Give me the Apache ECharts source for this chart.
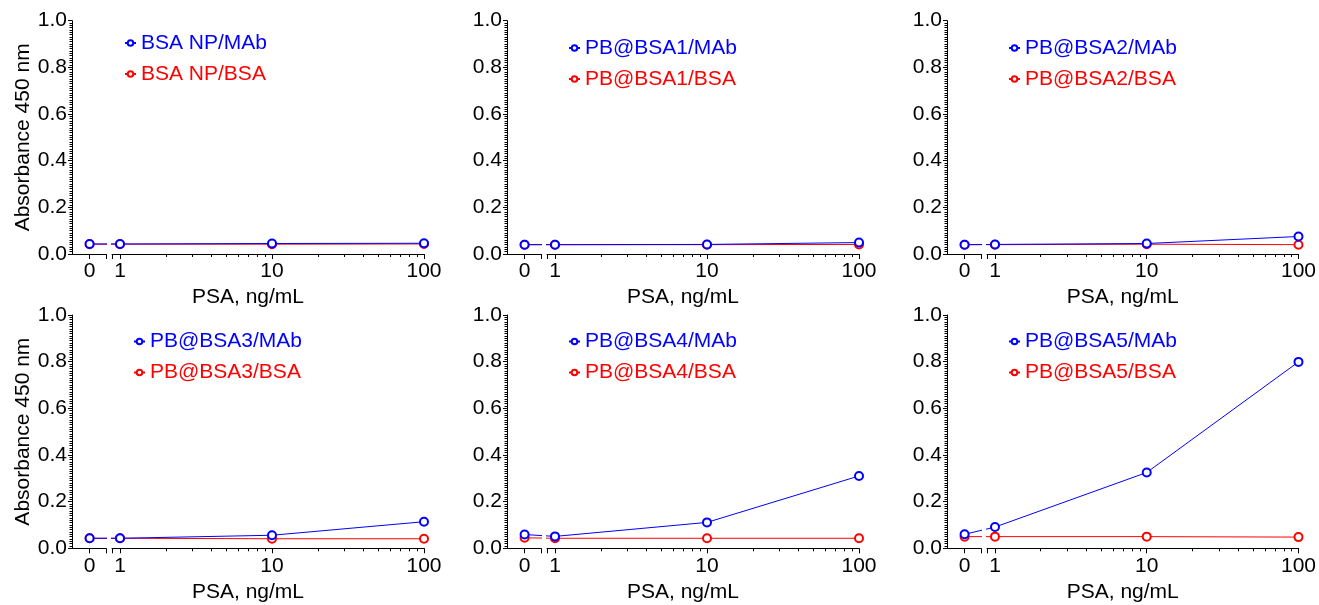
<!DOCTYPE html>
<html>
<head>
<meta charset="utf-8">
<script src="https://cdn.jsdelivr.net/npm/echarts@6/dist/echarts.min.js"></script>
<style>html,body{margin:0;padding:0;background:#fff}#c{width:1319px;height:605px}</style>
</head>
<body>
<div id="c"></div>
<script>
// ---- data ----
const concentrations = [0, 1, 10, 100];
const xTickLabelsLog = ['1', '10', '100'];
const xTickLabelZero = '0';

const mabNames = ['BSA NP/MAb', 'PB@BSA1/MAb', 'PB@BSA2/MAb', 'PB@BSA3/MAb', 'PB@BSA4/MAb', 'PB@BSA5/MAb'];
const bsaNames = ['BSA NP/BSA', 'PB@BSA1/BSA', 'PB@BSA2/BSA', 'PB@BSA3/BSA', 'PB@BSA4/BSA', 'PB@BSA5/BSA'];

const mab1 = [0.043, 0.043, 0.045, 0.046];
const bsa1 = [0.042, 0.042, 0.042, 0.043];
const mab2 = [0.040, 0.040, 0.041, 0.049];
const bsa2 = [0.040, 0.040, 0.040, 0.041];
const mab3 = [0.040, 0.041, 0.045, 0.075];
const bsa3 = [0.040, 0.040, 0.042, 0.040];
const mab4 = [0.043, 0.043, 0.056, 0.114];
const bsa4 = [0.043, 0.043, 0.041, 0.041];
const mab5 = [0.059, 0.051, 0.111, 0.310];
const bsa5 = [0.045, 0.043, 0.043, 0.043];
const mab6 = [0.060, 0.091, 0.325, 0.799];
const bsa6 = [0.050, 0.050, 0.050, 0.048];

const mabValues = [mab1, mab2, mab3, mab4, mab5, mab6];
const bsaValues = [bsa1, bsa2, bsa3, bsa4, bsa5, bsa6];

// ---- layout / scale ----
const FONT = 'Liberation Sans, Arial, sans-serif';
const FS = 21;
const BLUE = '#0000ff';
const RED = '#ff0000';
const DEC = 152;               // px per decade
const ZERO_POS = -0.2;         // axis position (decades) for concentration 0
const colX = [72, 507, 947];   // y-axis x position for each column
const rowTop = [20.7, 315];
const GH = 233.3;
const A_W = 34, B_OFF = 40, TOTAL_W = 352;
const legendPos = [[124, 32.5], [568, 37.5], [1008, 37.5], [133, 331], [568, 331], [1008, 331]];

function pos(c) { return c === 0 ? ZERO_POS : Math.log10(c); }
const minorLog = [];
[1, 10].forEach(b => { for (let k = 2; k <= 9; k++) minorLog.push(Math.log10(b * k)); });

const grids = [], xAxes = [], yAxes = [], series = [], legends = [];
const lbl = { fontFamily: FONT, fontSize: FS, color: '#000' };

for (let p = 0; p < 6; p++) {
  const r = Math.floor(p / 3), c = p % 3;
  const ax = colX[c], top = rowTop[r];
  const aMin = -48 / DEC, aMax = aMin + A_W / DEC;
  const bMin = (B_OFF - 48) / DEC, bMax = 2;
  const gA = grids.length;
  grids.push({ left: ax, top: top, width: A_W, height: GH, containLabel: false });
  grids.push({ left: ax + B_OFF, top: top, width: TOTAL_W - B_OFF, height: GH, containLabel: false });
  const gB = gA + 1;
  const axisLine = { show: true, lineStyle: { color: '#000', width: 1 } };
  const xA = xAxes.length;
  xAxes.push({ type: 'value', gridIndex: gA, position: 'bottom', min: aMin, max: aMax,
    axisLine: axisLine, splitLine: { show: false },
    axisTick: { show: true, length: 5, lineStyle: { color: '#000' }, customValues: [ZERO_POS, aMax] },
    axisLabel: { show: true, margin: 7, ...lbl, customValues: [ZERO_POS], formatter: () => xTickLabelZero } });
  const xB = xAxes.length;
  xAxes.push({ type: 'value', gridIndex: gB, position: 'bottom', min: bMin, max: bMax,
    axisLine: axisLine, splitLine: { show: false },
    name: 'PSA, ng/mL', nameLocation: 'middle', nameGap: 33,
    nameTextStyle: { ...lbl, padding: [0, 40, 0, 0] },
    axisTick: { show: true, length: 5, lineStyle: { color: '#000' }, customValues: [bMin, 0, 1, 2] },
    axisLabel: { show: true, margin: 7, ...lbl, customValues: [0, 1, 2], formatter: v => xTickLabelsLog[Math.round(v)] } });
  xAxes.push({ type: 'value', gridIndex: gB, position: 'bottom', min: bMin, max: bMax, offset: 0,
    axisLine: { show: false }, splitLine: { show: false }, axisLabel: { show: false },
    axisTick: { show: true, length: 3, lineStyle: { color: '#000' }, customValues: minorLog } });
  const yA = yAxes.length;
  yAxes.push({ type: 'value', gridIndex: gA, min: 0, max: 1, interval: 0.2,
    name: c === 0 ? 'Absorbance 450 nm' : '', nameLocation: 'middle', nameGap: 38,
    nameTextStyle: lbl,
    axisLine: axisLine, splitLine: { show: false },
    axisTick: { show: true, length: 4, lineStyle: { color: '#000' } },
    minorTick: { show: true, splitNumber: 20, length: 2.5, lineStyle: { color: '#000' } },
    axisLabel: { ...lbl, margin: 5, formatter: v => v.toFixed(1) } });
  const yB = yAxes.length;
  yAxes.push({ type: 'value', gridIndex: gB, min: 0, max: 1, interval: 0.2, show: false });

  const sets = [
    { name: bsaNames[p], vals: bsaValues[p], color: RED },
    { name: mabNames[p], vals: mabValues[p], color: BLUE }
  ];
  sets.forEach(s => {
    [[xA, yA], [xB, yB]].forEach(([xi, yi]) => {
      series.push({
        type: 'line', name: s.name, xAxisIndex: xi, yAxisIndex: yi, clip: true,
        data: concentrations.map((cc, i) => [pos(cc), s.vals[i]]),
        symbol: 'emptyCircle', symbolSize: 8,
        lineStyle: { color: s.color, width: 1 },
        itemStyle: { color: s.color, borderColor: s.color, borderWidth: 1.5 },
        animation: false, silent: true
      });
    });
  });
  legends.push({
    left: legendPos[p][0], top: legendPos[p][1], orient: 'vertical', padding: 0,
    itemWidth: 11, itemHeight: 7, itemGap: 10,
    textStyle: { fontFamily: FONT, fontSize: FS },
    data: [
      { name: mabNames[p], textStyle: { color: BLUE } },
      { name: bsaNames[p], textStyle: { color: RED } }
    ]
  });
}

const chart = echarts.init(document.getElementById('c'), null, { renderer: 'canvas' });
chart.setOption({
  backgroundColor: '#fff',
  animation: false,
  grid: grids, xAxis: xAxes, yAxis: yAxes, series: series, legend: legends
});
</script>
</body>
</html>
